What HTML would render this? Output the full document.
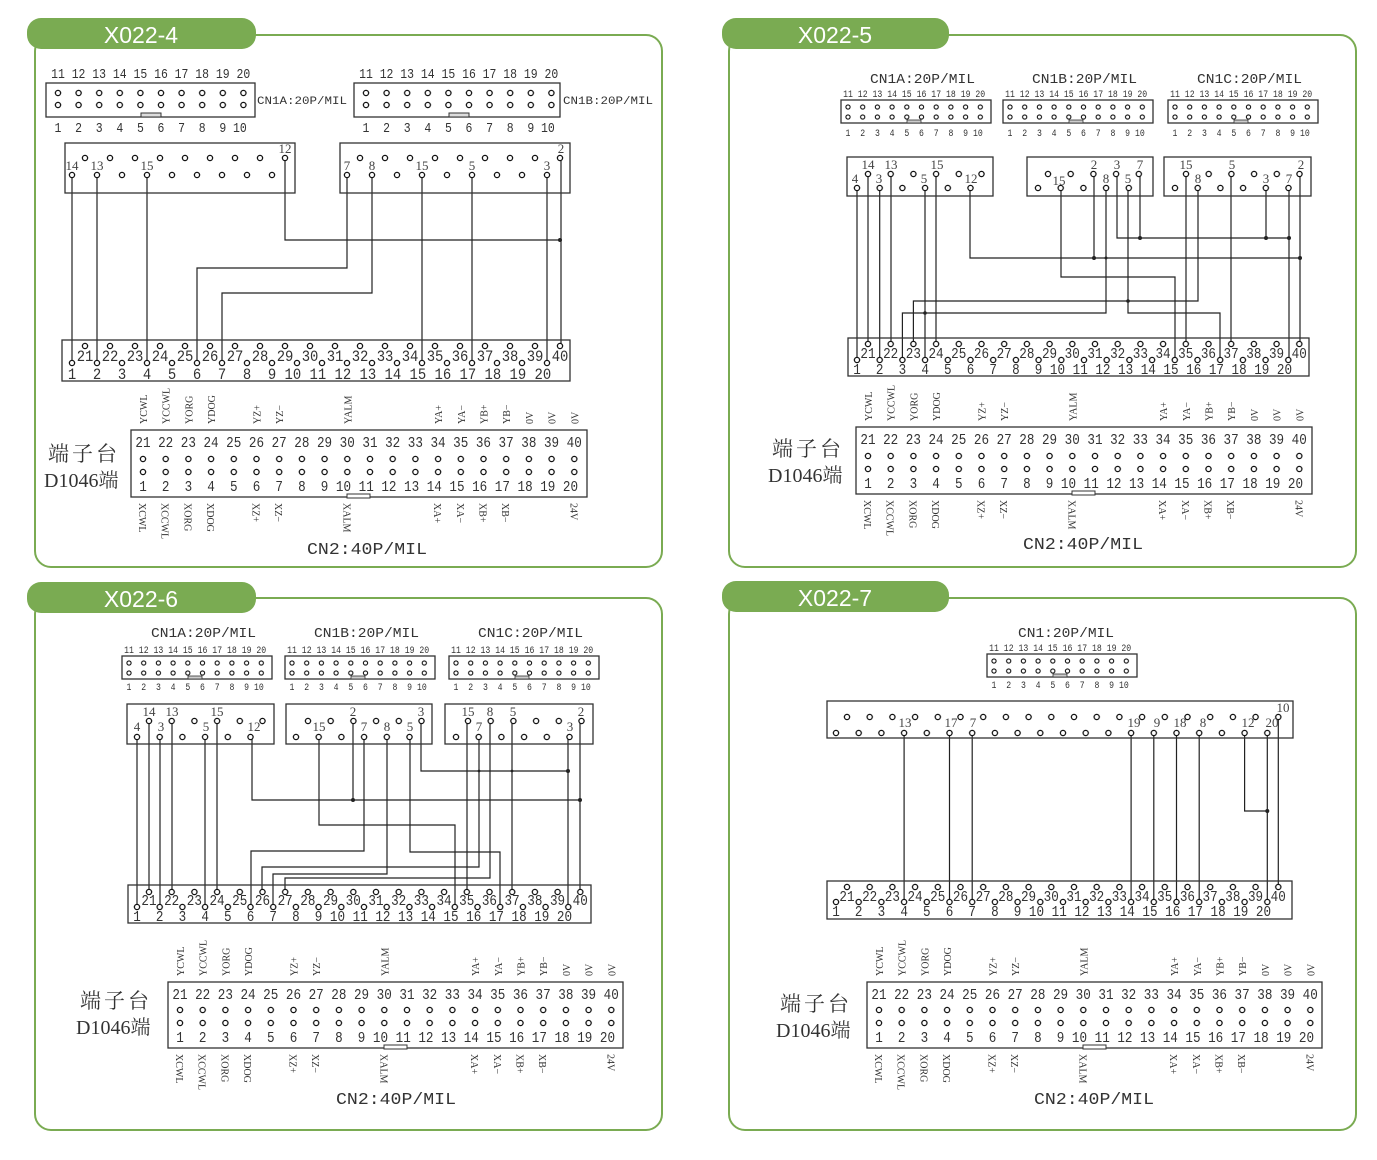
<!DOCTYPE html>
<html><head><meta charset="utf-8"><style>
html,body{margin:0;padding:0;background:#fff}
svg{display:block}
.w{fill:none;stroke:#222;stroke-width:1.2}
.b{fill:none;stroke:#333;stroke-width:1.3}
.m{font-family:"Liberation Mono",monospace;fill:#333;white-space:pre}
.s{font-family:"Liberation Serif","Noto Serif CJK SC",serif;fill:#333}
.v{font-family:"Liberation Serif",serif;font-size:10px;fill:#333}
.l{font-family:"Liberation Serif",serif;font-size:13px;fill:#444;text-anchor:middle}
.t{font-family:"Liberation Sans",sans-serif;font-size:23px;fill:#fff;text-anchor:middle}
.g{fill:none;stroke:#7aab52;stroke-width:2}
</style></head><body>
<svg width="1377" height="1160" viewBox="0 0 1377 1160" xmlns="http://www.w3.org/2000/svg">
<defs>
<pattern id="c227" width="22.7" height="8" patternUnits="userSpaceOnUse"><circle cx="11.35" cy="4" r="2.6" fill="#fff" stroke="#111" stroke-width="1.3"/></pattern>
<pattern id="c25" width="25" height="8" patternUnits="userSpaceOnUse"><circle cx="12.5" cy="4" r="2.6" fill="#fff" stroke="#111" stroke-width="1.3"/></pattern>
<pattern id="c206" width="20.6" height="8" patternUnits="userSpaceOnUse"><circle cx="10.3" cy="4" r="2.6" fill="#fff" stroke="#111" stroke-width="1.3"/></pattern>
<pattern id="c147" width="14.7" height="8" patternUnits="userSpaceOnUse"><circle cx="7.35" cy="4" r="2.1" fill="#fff" stroke="#111" stroke-width="1.1"/></pattern>
</defs>

<rect class="g" x="35" y="35" width="627" height="532" rx="16"/>
<rect class="g" x="729" y="35" width="627" height="532" rx="16"/>
<rect class="g" x="35" y="598" width="627" height="532" rx="16"/>
<rect class="g" x="729" y="598" width="627" height="532" rx="16"/>
<rect x="27" y="18" width="229" height="31" rx="14" fill="#7aab52"/><text class="t" x="141" y="43">X022-4</text>
<rect x="722" y="18" width="227" height="31" rx="14" fill="#7aab52"/><text class="t" x="835" y="43">X022-5</text>
<rect x="27" y="582" width="229" height="31" rx="14" fill="#7aab52"/><text class="t" x="141" y="607">X022-6</text>
<rect x="722" y="581" width="227" height="31" rx="14" fill="#7aab52"/><text class="t" x="835" y="606">X022-7</text>

<!-- ================= PANEL 1 ================= -->
<path class="w" d="M72 175V363M97 175V363M147 175V363M285 158V240H560M561 158V346M347 175V268H197V363M372 175V293H222V363M422 175V363M472 175V363M547 175V363"/>
<circle cx="560" cy="240" r="2" fill="#222"/>
<g transform="translate(46,83)"><rect class="b" width="209" height="34" fill="none"/>
<g transform="translate(1.7,6)"><rect width="206" height="8" fill="url(#c206)"/></g><g transform="translate(1.7,18)"><rect width="206" height="8" fill="url(#c206)"/></g>
<text class="m" x="5.1" y="-5" font-size="14" textLength="199.1" lengthAdjust="spacingAndGlyphs">11 12 13 14 15 16 17 18 19 20</text>
<text class="m" x="1.7" y="49" font-size="14" textLength="199.1" lengthAdjust="spacingAndGlyphs"> 1  2  3  4  5  6  7  8  9 10</text>
<rect x="95" y="30" width="20" height="4" fill="#ddd" stroke="#333"/></g>
<text class="m" x="257" y="104" font-size="11" textLength="90" lengthAdjust="spacingAndGlyphs">CN1A:20P/MIL</text>
<g transform="translate(354,83)"><rect class="b" width="206" height="34" fill="none"/>
<g transform="translate(1.7,6)"><rect width="206" height="8" fill="url(#c206)"/></g><g transform="translate(1.7,18)"><rect width="206" height="8" fill="url(#c206)"/></g>
<text class="m" x="5.1" y="-5" font-size="14" textLength="199.1" lengthAdjust="spacingAndGlyphs">11 12 13 14 15 16 17 18 19 20</text>
<text class="m" x="1.7" y="49" font-size="14" textLength="199.1" lengthAdjust="spacingAndGlyphs"> 1  2  3  4  5  6  7  8  9 10</text>
<rect x="95" y="30" width="20" height="4" fill="#ddd" stroke="#333"/></g>
<text class="m" x="563" y="104" font-size="11" textLength="90" lengthAdjust="spacingAndGlyphs">CN1B:20P/MIL</text>
<rect class="b" x="65" y="143" width="230" height="50"/>
<g transform="translate(72.5,154)"><rect width="225" height="8" fill="url(#c25)"/></g>
<g transform="translate(59.5,171)"><rect width="225" height="8" fill="url(#c25)"/></g>
<text class="l" x="72" y="170">14</text><text class="l" x="97" y="170">13</text><text class="l" x="147" y="170">15</text><text class="l" x="285" y="153">12</text>
<rect class="b" x="340" y="143" width="230" height="50"/>
<g transform="translate(347.5,154)"><rect width="225" height="8" fill="url(#c25)"/></g>
<g transform="translate(334.5,171)"><rect width="225" height="8" fill="url(#c25)"/></g>
<text class="l" x="347" y="170">7</text><text class="l" x="372" y="170">8</text><text class="l" x="422" y="170">15</text><text class="l" x="472" y="170">5</text><text class="l" x="547" y="170">3</text><text class="l" x="561" y="153">2</text>
<g transform="translate(62,340)"><rect class="b" width="508" height="41"/>
<g transform="translate(10.5,2)"><rect width="500" height="8" fill="url(#c25)"/></g>
<g transform="translate(-2.5,19)"><rect width="500" height="8" fill="url(#c25)"/></g>
<text class="m" x="14.7" y="21" font-size="16" textLength="491.7" lengthAdjust="spacingAndGlyphs">21 22 23 24 25 26 27 28 29 30 31 32 33 34 35 36 37 38 39 40</text>
<text class="m" x="-2.5" y="39" font-size="16" textLength="491.7" lengthAdjust="spacingAndGlyphs"> 1  2  3  4  5  6  7  8  9 10 11 12 13 14 15 16 17 18 19 20</text></g>
<g transform="translate(131,430)">
<rect class="b" width="456" height="67"/>
<text class="m" x="4.4" y="17" font-size="15" textLength="446.4" lengthAdjust="spacingAndGlyphs">21 22 23 24 25 26 27 28 29 30 31 32 33 34 35 36 37 38 39 40</text>
<g transform="translate(0.65,25)"><rect width="454" height="8" fill="url(#c227)"/></g>
<g transform="translate(0.65,38)"><rect width="454" height="8" fill="url(#c227)"/></g>
<text class="m" x="0.65" y="61" font-size="15" textLength="446.4" lengthAdjust="spacingAndGlyphs"> 1  2  3  4  5  6  7  8  9 10 11 12 13 14 15 16 17 18 19 20</text>
<rect x="216" y="64" width="23" height="4" fill="#fff" stroke="#333"/>
<text class="v" transform="translate(16,-6) rotate(-90)">YCWL</text><text class="v" transform="translate(38.7,-6) rotate(-90)">YCCWL</text><text class="v" transform="translate(61.4,-6) rotate(-90)">YORG</text><text class="v" transform="translate(84.1,-6) rotate(-90)">YDOG</text><text class="v" transform="translate(129.5,-6) rotate(-90)">YZ+</text><text class="v" transform="translate(152.2,-6) rotate(-90)">YZ−</text><text class="v" transform="translate(220.3,-6) rotate(-90)">YALM</text><text class="v" transform="translate(311.1,-6) rotate(-90)">YA+</text><text class="v" transform="translate(333.8,-6) rotate(-90)">YA−</text><text class="v" transform="translate(356.5,-6) rotate(-90)">YB+</text><text class="v" transform="translate(379.2,-6) rotate(-90)">YB−</text><text class="v" transform="translate(401.9,-6) rotate(-90)">0V</text><text class="v" transform="translate(424.6,-6) rotate(-90)">0V</text><text class="v" transform="translate(447.3,-6) rotate(-90)">0V</text>
<text class="v" transform="translate(8,73) rotate(90)">XCWL</text><text class="v" transform="translate(30.7,73) rotate(90)">XCCWL</text><text class="v" transform="translate(53.4,73) rotate(90)">XORG</text><text class="v" transform="translate(76.1,73) rotate(90)">XDOG</text><text class="v" transform="translate(121.5,73) rotate(90)">XZ+</text><text class="v" transform="translate(144.2,73) rotate(90)">XZ−</text><text class="v" transform="translate(212.3,73) rotate(90)">XALM</text><text class="v" transform="translate(303.1,73) rotate(90)">XA+</text><text class="v" transform="translate(325.8,73) rotate(90)">XA−</text><text class="v" transform="translate(348.5,73) rotate(90)">XB+</text><text class="v" transform="translate(371.2,73) rotate(90)">XB−</text><text class="v" transform="translate(439.3,73) rotate(90)">24V</text>
<text class="s" x="-83" y="31" font-size="21" letter-spacing="3">端子台</text>
<text class="s" x="-87" y="57" font-size="20">D1046端</text>
<text class="m" x="176" y="124" font-size="17" textLength="120" lengthAdjust="spacingAndGlyphs">CN2:40P/MIL</text>
</g>

<!-- ================= PANEL 2 ================= -->
<path class="w" d="M857 188V360M868 174V344M879.7 188V360M891 174V344M925 188V360M936 174V344M970 188V258H1300M1094 174V258M1300 174V344M1061 188V277H1175V360M1106 188V313H902.4V360M1117 174V238H1289M1140 174V238M1266 188V238M1289 188V360M1128 188V313H1220V360M1198 188V301H913.4V344M1186 174V344M1231 174V344"/>
<g fill="#222"><circle cx="1094" cy="258" r="2"/><circle cx="1300" cy="258" r="2"/><circle cx="925" cy="313" r="1.8"/><circle cx="1140" cy="238" r="2"/><circle cx="1266" cy="238" r="2"/><circle cx="1289" cy="238" r="2"/><circle cx="1128" cy="301" r="1.8"/><circle cx="1106" cy="258" r="1.5"/></g>
<g transform="translate(841,100)"><rect class="b" width="150" height="23"/>
<g transform="translate(-0.35,3)"><rect width="147" height="8" fill="url(#c147)"/></g><g transform="translate(-0.35,13)"><rect width="147" height="8" fill="url(#c147)"/></g>
<text class="m" x="2.1" y="-3" font-size="10" textLength="142.1" lengthAdjust="spacingAndGlyphs">11 12 13 14 15 16 17 18 19 20</text><text class="m" x="-0.35" y="36" font-size="10" textLength="142.1" lengthAdjust="spacingAndGlyphs"> 1  2  3  4  5  6  7  8  9 10</text>
<rect x="66" y="20" width="14" height="3" fill="#ccc" stroke="#333" stroke-width=".8"/>
<text class="m" x="29" y="-17" font-size="14" textLength="105" lengthAdjust="spacingAndGlyphs">CN1A:20P/MIL</text></g>
<g transform="translate(1003,100)"><rect class="b" width="150" height="23"/>
<g transform="translate(-0.35,3)"><rect width="147" height="8" fill="url(#c147)"/></g><g transform="translate(-0.35,13)"><rect width="147" height="8" fill="url(#c147)"/></g>
<text class="m" x="2.1" y="-3" font-size="10" textLength="142.1" lengthAdjust="spacingAndGlyphs">11 12 13 14 15 16 17 18 19 20</text><text class="m" x="-0.35" y="36" font-size="10" textLength="142.1" lengthAdjust="spacingAndGlyphs"> 1  2  3  4  5  6  7  8  9 10</text>
<rect x="66" y="20" width="14" height="3" fill="#ccc" stroke="#333" stroke-width=".8"/>
<text class="m" x="29" y="-17" font-size="14" textLength="105" lengthAdjust="spacingAndGlyphs">CN1B:20P/MIL</text></g>
<g transform="translate(1168,100)"><rect class="b" width="150" height="23"/>
<g transform="translate(-0.35,3)"><rect width="147" height="8" fill="url(#c147)"/></g><g transform="translate(-0.35,13)"><rect width="147" height="8" fill="url(#c147)"/></g>
<text class="m" x="2.1" y="-3" font-size="10" textLength="142.1" lengthAdjust="spacingAndGlyphs">11 12 13 14 15 16 17 18 19 20</text><text class="m" x="-0.35" y="36" font-size="10" textLength="142.1" lengthAdjust="spacingAndGlyphs"> 1  2  3  4  5  6  7  8  9 10</text>
<rect x="66" y="20" width="14" height="3" fill="#ccc" stroke="#333" stroke-width=".8"/>
<text class="m" x="29" y="-17" font-size="14" textLength="105" lengthAdjust="spacingAndGlyphs">CN1C:20P/MIL</text></g>
<rect class="b" x="847" y="157" width="146" height="39"/>
<g transform="translate(856.65,170)"><rect width="136.2" height="8" fill="url(#c227)"/></g>
<g transform="translate(845.65,184)"><rect width="136.2" height="8" fill="url(#c227)"/></g>
<rect class="b" x="1027" y="157" width="126" height="39"/>
<g transform="translate(1036.65,170)"><rect width="113.5" height="8" fill="url(#c227)"/></g>
<g transform="translate(1026.65,184)"><rect width="113.5" height="8" fill="url(#c227)"/></g>
<rect class="b" x="1164" y="157" width="147" height="39"/>
<g transform="translate(1174.65,170)"><rect width="136.2" height="8" fill="url(#c227)"/></g>
<g transform="translate(1163.65,184)"><rect width="136.2" height="8" fill="url(#c227)"/></g>
<text class="l" x="868" y="169">14</text><text class="l" x="891" y="169">13</text><text class="l" x="937" y="169">15</text><text class="l" x="855" y="183">4</text><text class="l" x="879" y="183">3</text><text class="l" x="924" y="183">5</text><text class="l" x="971" y="183">12</text>
<text class="l" x="1094" y="169">2</text><text class="l" x="1117" y="169">3</text><text class="l" x="1140" y="169">7</text><text class="l" x="1059" y="185">15</text><text class="l" x="1106" y="183">8</text><text class="l" x="1128" y="183">5</text>
<text class="l" x="1186" y="169">15</text><text class="l" x="1232" y="169">5</text><text class="l" x="1301" y="169">2</text><text class="l" x="1198" y="183">8</text><text class="l" x="1266" y="183">3</text><text class="l" x="1289" y="183">7</text>
<g transform="translate(848,338)"><rect class="b" width="461" height="38"/>
<g transform="translate(8.65,2)"><rect width="454" height="8" fill="url(#c227)"/></g>
<g transform="translate(-2.35,18)"><rect width="454" height="8" fill="url(#c227)"/></g>
<text class="m" x="12.4" y="20" font-size="15" textLength="446.4" lengthAdjust="spacingAndGlyphs">21 22 23 24 25 26 27 28 29 30 31 32 33 34 35 36 37 38 39 40</text>
<text class="m" x="-2.35" y="36" font-size="15" textLength="446.4" lengthAdjust="spacingAndGlyphs"> 1  2  3  4  5  6  7  8  9 10 11 12 13 14 15 16 17 18 19 20</text></g>
<g transform="translate(856,427)">
<rect class="b" width="456" height="67"/>
<text class="m" x="4.4" y="17" font-size="15" textLength="446.4" lengthAdjust="spacingAndGlyphs">21 22 23 24 25 26 27 28 29 30 31 32 33 34 35 36 37 38 39 40</text>
<g transform="translate(0.65,25)"><rect width="454" height="8" fill="url(#c227)"/></g>
<g transform="translate(0.65,38)"><rect width="454" height="8" fill="url(#c227)"/></g>
<text class="m" x="0.65" y="61" font-size="15" textLength="446.4" lengthAdjust="spacingAndGlyphs"> 1  2  3  4  5  6  7  8  9 10 11 12 13 14 15 16 17 18 19 20</text>
<rect x="216" y="64" width="23" height="4" fill="#fff" stroke="#333"/>
<text class="v" transform="translate(16,-6) rotate(-90)">YCWL</text><text class="v" transform="translate(38.7,-6) rotate(-90)">YCCWL</text><text class="v" transform="translate(61.4,-6) rotate(-90)">YORG</text><text class="v" transform="translate(84.1,-6) rotate(-90)">YDOG</text><text class="v" transform="translate(129.5,-6) rotate(-90)">YZ+</text><text class="v" transform="translate(152.2,-6) rotate(-90)">YZ−</text><text class="v" transform="translate(220.3,-6) rotate(-90)">YALM</text><text class="v" transform="translate(311.1,-6) rotate(-90)">YA+</text><text class="v" transform="translate(333.8,-6) rotate(-90)">YA−</text><text class="v" transform="translate(356.5,-6) rotate(-90)">YB+</text><text class="v" transform="translate(379.2,-6) rotate(-90)">YB−</text><text class="v" transform="translate(401.9,-6) rotate(-90)">0V</text><text class="v" transform="translate(424.6,-6) rotate(-90)">0V</text><text class="v" transform="translate(447.3,-6) rotate(-90)">0V</text>
<text class="v" transform="translate(8,73) rotate(90)">XCWL</text><text class="v" transform="translate(30.7,73) rotate(90)">XCCWL</text><text class="v" transform="translate(53.4,73) rotate(90)">XORG</text><text class="v" transform="translate(76.1,73) rotate(90)">XDOG</text><text class="v" transform="translate(121.5,73) rotate(90)">XZ+</text><text class="v" transform="translate(144.2,73) rotate(90)">XZ−</text><text class="v" transform="translate(212.3,73) rotate(90)">XALM</text><text class="v" transform="translate(303.1,73) rotate(90)">XA+</text><text class="v" transform="translate(325.8,73) rotate(90)">XA−</text><text class="v" transform="translate(348.5,73) rotate(90)">XB+</text><text class="v" transform="translate(371.2,73) rotate(90)">XB−</text><text class="v" transform="translate(439.3,73) rotate(90)">24V</text>
<text class="s" x="-84" y="29" font-size="21" letter-spacing="3">端子台</text>
<text class="s" x="-88" y="55" font-size="20">D1046端</text>
<text class="m" x="167" y="122" font-size="17" textLength="120" lengthAdjust="spacingAndGlyphs">CN2:40P/MIL</text>
</g>

<!-- ================= PANEL 3 ================= -->
<path class="w" d="M137 737V907M149 721V892M160 737V907M172 721V892M205 737V907M217 721V892M252 737V800H580M353 721V800M580 721V892M319 737V825H455V907M364 737V851H251V907M387 737V874H273V907M410 737V852H500V907M421 721V771H568M568 737V907M479 737V867H262V892M490 721V878H285V892M467 721V892M512 721V892"/>
<g fill="#222"><circle cx="353" cy="800" r="2"/><circle cx="580" cy="800" r="2"/><circle cx="568" cy="771" r="2"/><circle cx="479" cy="771" r="1.4"/><circle cx="512" cy="771" r="1.4"/></g>
<g transform="translate(122,656)"><rect class="b" width="150" height="23"/>
<g transform="translate(-0.35,3)"><rect width="147" height="8" fill="url(#c147)"/></g><g transform="translate(-0.35,13)"><rect width="147" height="8" fill="url(#c147)"/></g>
<text class="m" x="2.1" y="-3" font-size="10" textLength="142.1" lengthAdjust="spacingAndGlyphs">11 12 13 14 15 16 17 18 19 20</text><text class="m" x="-0.35" y="34" font-size="10" textLength="142.1" lengthAdjust="spacingAndGlyphs"> 1  2  3  4  5  6  7  8  9 10</text>
<rect x="66" y="20" width="14" height="3" fill="#ccc" stroke="#333" stroke-width=".8"/>
<text class="m" x="29" y="-19" font-size="14" textLength="105" lengthAdjust="spacingAndGlyphs">CN1A:20P/MIL</text></g>
<g transform="translate(285,656)"><rect class="b" width="150" height="23"/>
<g transform="translate(-0.35,3)"><rect width="147" height="8" fill="url(#c147)"/></g><g transform="translate(-0.35,13)"><rect width="147" height="8" fill="url(#c147)"/></g>
<text class="m" x="2.1" y="-3" font-size="10" textLength="142.1" lengthAdjust="spacingAndGlyphs">11 12 13 14 15 16 17 18 19 20</text><text class="m" x="-0.35" y="34" font-size="10" textLength="142.1" lengthAdjust="spacingAndGlyphs"> 1  2  3  4  5  6  7  8  9 10</text>
<rect x="66" y="20" width="14" height="3" fill="#ccc" stroke="#333" stroke-width=".8"/>
<text class="m" x="29" y="-19" font-size="14" textLength="105" lengthAdjust="spacingAndGlyphs">CN1B:20P/MIL</text></g>
<g transform="translate(449,656)"><rect class="b" width="150" height="23"/>
<g transform="translate(-0.35,3)"><rect width="147" height="8" fill="url(#c147)"/></g><g transform="translate(-0.35,13)"><rect width="147" height="8" fill="url(#c147)"/></g>
<text class="m" x="2.1" y="-3" font-size="10" textLength="142.1" lengthAdjust="spacingAndGlyphs">11 12 13 14 15 16 17 18 19 20</text><text class="m" x="-0.35" y="34" font-size="10" textLength="142.1" lengthAdjust="spacingAndGlyphs"> 1  2  3  4  5  6  7  8  9 10</text>
<rect x="66" y="20" width="14" height="3" fill="#ccc" stroke="#333" stroke-width=".8"/>
<text class="m" x="29" y="-19" font-size="14" textLength="105" lengthAdjust="spacingAndGlyphs">CN1C:20P/MIL</text></g>
<rect class="b" x="127" y="704" width="147" height="40"/>
<g transform="translate(137.65,717)"><rect width="136.2" height="8" fill="url(#c227)"/></g>
<g transform="translate(125.65,733)"><rect width="136.2" height="8" fill="url(#c227)"/></g>
<rect class="b" x="286" y="704" width="146" height="40"/>
<g transform="translate(296.65,717)"><rect width="136.2" height="8" fill="url(#c227)"/></g>
<g transform="translate(284.65,733)"><rect width="136.2" height="8" fill="url(#c227)"/></g>
<rect class="b" x="445" y="704" width="148" height="40"/>
<g transform="translate(456.65,717)"><rect width="136.2" height="8" fill="url(#c227)"/></g>
<g transform="translate(444.65,733)"><rect width="136.2" height="8" fill="url(#c227)"/></g>
<text class="l" x="149" y="716">14</text><text class="l" x="172" y="716">13</text><text class="l" x="217" y="716">15</text><text class="l" x="137" y="731">4</text><text class="l" x="161" y="731">3</text><text class="l" x="206" y="731">5</text><text class="l" x="254" y="731">12</text>
<text class="l" x="353" y="716">2</text><text class="l" x="421" y="716">3</text><text class="l" x="319" y="731">15</text><text class="l" x="364" y="731">7</text><text class="l" x="387" y="731">8</text><text class="l" x="410" y="731">5</text>
<text class="l" x="468" y="716">15</text><text class="l" x="490" y="716">8</text><text class="l" x="513" y="716">5</text><text class="l" x="581" y="716">2</text><text class="l" x="479" y="731">7</text><text class="l" x="570" y="731">3</text>
<g transform="translate(128,885)"><rect class="b" width="463" height="38"/>
<g transform="translate(9.65,3)"><rect width="454" height="8" fill="url(#c227)"/></g>
<g transform="translate(-2.35,18)"><rect width="454" height="8" fill="url(#c227)"/></g>
<text class="m" x="13.4" y="20" font-size="15" textLength="446.4" lengthAdjust="spacingAndGlyphs">21 22 23 24 25 26 27 28 29 30 31 32 33 34 35 36 37 38 39 40</text>
<text class="m" x="-2.35" y="36" font-size="15" textLength="446.4" lengthAdjust="spacingAndGlyphs"> 1  2  3  4  5  6  7  8  9 10 11 12 13 14 15 16 17 18 19 20</text></g>
<g transform="translate(168,982)">
<rect class="b" width="455" height="66"/>
<text class="m" x="4.4" y="17" font-size="15" textLength="446.4" lengthAdjust="spacingAndGlyphs">21 22 23 24 25 26 27 28 29 30 31 32 33 34 35 36 37 38 39 40</text>
<g transform="translate(0.65,24)"><rect width="454" height="8" fill="url(#c227)"/></g>
<g transform="translate(0.65,37)"><rect width="454" height="8" fill="url(#c227)"/></g>
<text class="m" x="0.65" y="60" font-size="15" textLength="446.4" lengthAdjust="spacingAndGlyphs"> 1  2  3  4  5  6  7  8  9 10 11 12 13 14 15 16 17 18 19 20</text>
<rect x="216" y="63" width="23" height="4" fill="#fff" stroke="#333"/>
<text class="v" transform="translate(16,-6) rotate(-90)">YCWL</text><text class="v" transform="translate(38.7,-6) rotate(-90)">YCCWL</text><text class="v" transform="translate(61.4,-6) rotate(-90)">YORG</text><text class="v" transform="translate(84.1,-6) rotate(-90)">YDOG</text><text class="v" transform="translate(129.5,-6) rotate(-90)">YZ+</text><text class="v" transform="translate(152.2,-6) rotate(-90)">YZ−</text><text class="v" transform="translate(220.3,-6) rotate(-90)">YALM</text><text class="v" transform="translate(311.1,-6) rotate(-90)">YA+</text><text class="v" transform="translate(333.8,-6) rotate(-90)">YA−</text><text class="v" transform="translate(356.5,-6) rotate(-90)">YB+</text><text class="v" transform="translate(379.2,-6) rotate(-90)">YB−</text><text class="v" transform="translate(401.9,-6) rotate(-90)">0V</text><text class="v" transform="translate(424.6,-6) rotate(-90)">0V</text><text class="v" transform="translate(447.3,-6) rotate(-90)">0V</text>
<text class="v" transform="translate(8,72) rotate(90)">XCWL</text><text class="v" transform="translate(30.7,72) rotate(90)">XCCWL</text><text class="v" transform="translate(53.4,72) rotate(90)">XORG</text><text class="v" transform="translate(76.1,72) rotate(90)">XDOG</text><text class="v" transform="translate(121.5,72) rotate(90)">XZ+</text><text class="v" transform="translate(144.2,72) rotate(90)">XZ−</text><text class="v" transform="translate(212.3,72) rotate(90)">XALM</text><text class="v" transform="translate(303.1,72) rotate(90)">XA+</text><text class="v" transform="translate(325.8,72) rotate(90)">XA−</text><text class="v" transform="translate(348.5,72) rotate(90)">XB+</text><text class="v" transform="translate(371.2,72) rotate(90)">XB−</text><text class="v" transform="translate(439.3,72) rotate(90)">24V</text>
<text class="s" x="-88" y="26" font-size="21" letter-spacing="3">端子台</text>
<text class="s" x="-92" y="52" font-size="20">D1046端</text>
<text class="m" x="168" y="122" font-size="17" textLength="120" lengthAdjust="spacingAndGlyphs">CN2:40P/MIL</text>
</g>

<!-- ================= PANEL 4 ================= -->
<path class="w" d="M904.1 733V902M949.5 733V902M972.2 733V902M1131.1 733V902M1153.8 733V902M1176.5 733V902M1199.2 733V902M1244.6 733V811H1267.3M1267.3 733V902M1278.3 717V887"/>
<circle cx="1267.3" cy="811" r="2" fill="#222"/>
<g transform="translate(987,654)"><rect class="b" width="150" height="23"/>
<g transform="translate(-0.35,3)"><rect width="147" height="8" fill="url(#c147)"/></g><g transform="translate(-0.35,13)"><rect width="147" height="8" fill="url(#c147)"/></g>
<text class="m" x="2.1" y="-3" font-size="10" textLength="142.1" lengthAdjust="spacingAndGlyphs">11 12 13 14 15 16 17 18 19 20</text><text class="m" x="-0.35" y="34" font-size="10" textLength="142.1" lengthAdjust="spacingAndGlyphs"> 1  2  3  4  5  6  7  8  9 10</text>
<rect x="66" y="20" width="14" height="3" fill="#ccc" stroke="#333" stroke-width=".8"/>
<text class="m" x="31" y="-17" font-size="14" textLength="96" lengthAdjust="spacingAndGlyphs">CN1:20P/MIL</text></g>
<rect class="b" x="827" y="701" width="466" height="37"/>
<g transform="translate(835.65,713)"><rect width="454" height="8" fill="url(#c227)"/></g>
<g transform="translate(824.65,729)"><rect width="454" height="8" fill="url(#c227)"/></g>
<text class="l" x="905" y="727">13</text><text class="l" x="951" y="727">17</text><text class="l" x="973" y="727">7</text><text class="l" x="1134" y="727">19</text><text class="l" x="1157" y="727">9</text><text class="l" x="1180" y="727">18</text><text class="l" x="1203" y="727">8</text><text class="l" x="1248" y="727">12</text><text class="l" x="1272" y="727">20</text><text class="l" x="1283" y="712">10</text>
<g transform="translate(827,881)"><rect class="b" width="465" height="38"/>
<g transform="translate(8.65,2)"><rect width="454" height="8" fill="url(#c227)"/></g>
<g transform="translate(-2.35,17)"><rect width="454" height="8" fill="url(#c227)"/></g>
<text class="m" x="12.4" y="20" font-size="15" textLength="446.4" lengthAdjust="spacingAndGlyphs">21 22 23 24 25 26 27 28 29 30 31 32 33 34 35 36 37 38 39 40</text>
<text class="m" x="-2.35" y="35" font-size="15" textLength="446.4" lengthAdjust="spacingAndGlyphs"> 1  2  3  4  5  6  7  8  9 10 11 12 13 14 15 16 17 18 19 20</text></g>
<g transform="translate(867,982)">
<rect class="b" width="455" height="66"/>
<text class="m" x="4.4" y="17" font-size="15" textLength="446.4" lengthAdjust="spacingAndGlyphs">21 22 23 24 25 26 27 28 29 30 31 32 33 34 35 36 37 38 39 40</text>
<g transform="translate(0.65,24)"><rect width="454" height="8" fill="url(#c227)"/></g>
<g transform="translate(0.65,37)"><rect width="454" height="8" fill="url(#c227)"/></g>
<text class="m" x="0.65" y="60" font-size="15" textLength="446.4" lengthAdjust="spacingAndGlyphs"> 1  2  3  4  5  6  7  8  9 10 11 12 13 14 15 16 17 18 19 20</text>
<rect x="216" y="63" width="23" height="4" fill="#fff" stroke="#333"/>
<text class="v" transform="translate(16,-6) rotate(-90)">YCWL</text><text class="v" transform="translate(38.7,-6) rotate(-90)">YCCWL</text><text class="v" transform="translate(61.4,-6) rotate(-90)">YORG</text><text class="v" transform="translate(84.1,-6) rotate(-90)">YDOG</text><text class="v" transform="translate(129.5,-6) rotate(-90)">YZ+</text><text class="v" transform="translate(152.2,-6) rotate(-90)">YZ−</text><text class="v" transform="translate(220.3,-6) rotate(-90)">YALM</text><text class="v" transform="translate(311.1,-6) rotate(-90)">YA+</text><text class="v" transform="translate(333.8,-6) rotate(-90)">YA−</text><text class="v" transform="translate(356.5,-6) rotate(-90)">YB+</text><text class="v" transform="translate(379.2,-6) rotate(-90)">YB−</text><text class="v" transform="translate(401.9,-6) rotate(-90)">0V</text><text class="v" transform="translate(424.6,-6) rotate(-90)">0V</text><text class="v" transform="translate(447.3,-6) rotate(-90)">0V</text>
<text class="v" transform="translate(8,72) rotate(90)">XCWL</text><text class="v" transform="translate(30.7,72) rotate(90)">XCCWL</text><text class="v" transform="translate(53.4,72) rotate(90)">XORG</text><text class="v" transform="translate(76.1,72) rotate(90)">XDOG</text><text class="v" transform="translate(121.5,72) rotate(90)">XZ+</text><text class="v" transform="translate(144.2,72) rotate(90)">XZ−</text><text class="v" transform="translate(212.3,72) rotate(90)">XALM</text><text class="v" transform="translate(303.1,72) rotate(90)">XA+</text><text class="v" transform="translate(325.8,72) rotate(90)">XA−</text><text class="v" transform="translate(348.5,72) rotate(90)">XB+</text><text class="v" transform="translate(371.2,72) rotate(90)">XB−</text><text class="v" transform="translate(439.3,72) rotate(90)">24V</text>
<text class="s" x="-87" y="29" font-size="21" letter-spacing="3">端子台</text>
<text class="s" x="-91" y="55" font-size="20">D1046端</text>
<text class="m" x="167" y="122" font-size="17" textLength="120" lengthAdjust="spacingAndGlyphs">CN2:40P/MIL</text>
</g>
</svg>
</body></html>
